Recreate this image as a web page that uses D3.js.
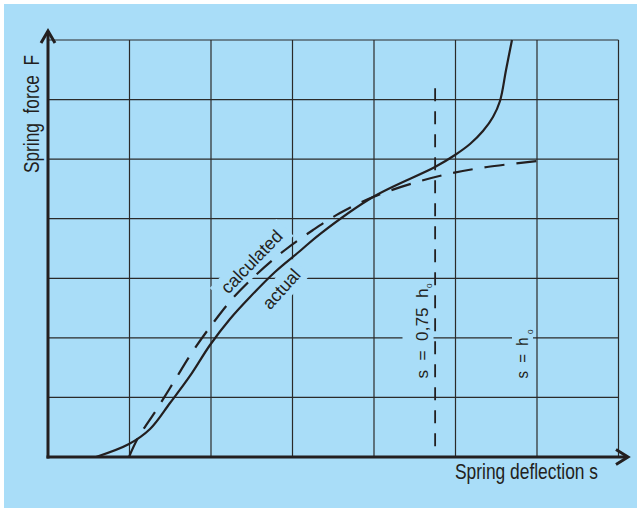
<!DOCTYPE html>
<html>
<head>
<meta charset="utf-8">
<script src="https://cdn.jsdelivr.net/npm/d3@7"></script>
<style>
  html, body { margin: 0; padding: 0; background: #ffffff; }
  svg { display: block; }
  text { font-family: "Liberation Sans Narrow", "Liberation Sans", Arial, sans-serif; fill: #231f20; white-space: pre; }
</style>
</head>
<body>
<svg id="chart" width="637" height="508"></svg>
<script>
// ---- data (grid units: one cell = 1) ----
const gridTicks = [1, 2, 3, 4, 5, 6, 7];

const actualX = [0.589, 0.994, 1.252, 1.497, 1.742, 1.988, 2.233, 2.479, 2.785, 3.092, 3.337, 3.988, 4.748, 4.994, 5.178, 5.337, 5.460, 5.546, 5.620, 5.693];
const actualY = [0, 0.218, 0.470, 0.906, 1.360, 1.880, 2.317, 2.686, 3.106, 3.458, 3.743, 4.365, 4.868, 5.070, 5.254, 5.472, 5.708, 5.976, 6.497, 7.0];

const calcX = [0.994, 1.104, 1.337, 1.558, 1.779, 2.025, 2.270, 2.577, 2.908, 3.252, 3.583, 3.988, 4.528, 4.969, 5.387, 6.0];
const calcY = [0, 0.319, 0.806, 1.293, 1.779, 2.249, 2.669, 3.089, 3.475, 3.810, 4.096, 4.365, 4.616, 4.768, 4.868, 4.969];

const markerS075 = 4.75;      // s = 0,75 h0
const markerTop = 6.19;

const yAxisLabel = "Spring  force  F";
const xAxisLabel = "Spring deflection s";
const calcLabel = "calculated";
const actualLabel = "actual";

// ---- drawing ----
const svg = d3.select("#chart");
const ink = "#231f20";
const blue = "#a9ddf8";

svg.append("rect").attr("x", 4).attr("y", 4).attr("width", 633).attr("height", 504).attr("fill", blue);

const x = d3.scaleLinear().domain([0, 7]).range([48, 618.5]);
const y = d3.scaleLinear().domain([0, 7]).range([457, 40]);

const gridG = svg.append("g");
gridG.selectAll("line.v").data(gridTicks).join("line")
  .attr("x1", d => x(d)).attr("x2", d => x(d))
  .attr("y1", y(0)).attr("y2", y(7))
  .attr("stroke", "#2a2a2a").attr("stroke-width", 1.2);
gridG.selectAll("line.h").data(gridTicks).join("line")
  .attr("y1", d => y(d)).attr("y2", d => y(d))
  .attr("x1", x(0)).attr("x2", x(7))
  .attr("stroke", "#2a2a2a").attr("stroke-width", 1.2);

const maskG = svg.append("g");
const curveG = svg.append("g");
const textG = svg.append("g");

function label(str, tx, ty, rot, size, len, anchor, pad) {
  const g = textG.append("g").attr("transform", `translate(${tx},${ty}) rotate(${rot})`);
  const t = g.append("text").text(str)
    .attr("font-size", size)
    .attr("text-anchor", anchor)
    .attr("textLength", len).attr("lengthAdjust", "spacingAndGlyphs");
  if (pad) {
    const b = t.node().getBBox();
    maskG.append("rect")
      .attr("transform", `translate(${tx},${ty}) rotate(${rot})`)
      .attr("x", b.x - pad[0]).attr("y", b.y - pad[1])
      .attr("width", b.width + pad[0] + pad[2]).attr("height", b.height + pad[1] + pad[3])
      .attr("fill", blue);
  }
  return g;
}

// axis labels
label(yAxisLabel, 39, 114, -90, 22, 118, "middle");
label(xAxisLabel, 455, 479, 0, 22, 143, "start");

// curve labels
label(calcLabel, 256, 266, -46, 18, 80, "middle", [8, 2, 8, 2]);
label(actualLabel, 286, 293, -48, 18, 47, "middle", [6, 2, 6, 2]);

// marker labels
const g1 = label("s  =  0,75  h", 427.5, 378.5, -90, 17, 90, "start", [3, 10, 3, 2]);
g1.append("text").text("0").attr("font-size", 8).attr("x", 90.5).attr("y", 4.5);
const g2 = label("s  =  h", 528, 378.5, -90, 17, 41, "start", [2, 1, 2, 1]);
g2.append("text").text("0").attr("font-size", 8).attr("x", 44.5).attr("y", 4.5);

// curves
const line = d3.line().x(d => x(d[0])).y(d => y(d[1])).curve(d3.curveCatmullRom.alpha(0.5));
curveG.append("path").datum(calcX.map((v, i) => [v, calcY[i]]))
  .attr("d", line).attr("fill", "none").attr("stroke", ink)
  .attr("stroke-width", 2.2).attr("stroke-dasharray", "20,12");
curveG.append("path").datum(actualX.map((v, i) => [v, actualY[i]]))
  .attr("d", line).attr("fill", "none").attr("stroke", ink)
  .attr("stroke-width", 2.2);

// vertical dashed marker
curveG.append("line")
  .attr("x1", x(markerS075)).attr("x2", x(markerS075))
  .attr("y1", y(markerTop)).attr("y2", y(0))
  .attr("stroke", ink).attr("stroke-width", 1.8).attr("stroke-dasharray", "13,10");

// axes with arrows
const axG = svg.append("g").attr("stroke", ink).attr("fill", "none").attr("stroke-width", 3);
axG.append("line").attr("x1", x(0)).attr("x2", x(0)).attr("y1", y(0) + 1.5).attr("y2", 31);
axG.append("path").attr("d", `M${x(0) - 7},43 L${x(0)},31 L${x(0) + 7},43`);
axG.append("line").attr("x1", x(0) - 1.5).attr("x2", 627).attr("y1", y(0)).attr("y2", y(0));
axG.append("path").attr("d", `M616,449.5 L628,${y(0)} L616,464.5`);
</script>
</body>
</html>
